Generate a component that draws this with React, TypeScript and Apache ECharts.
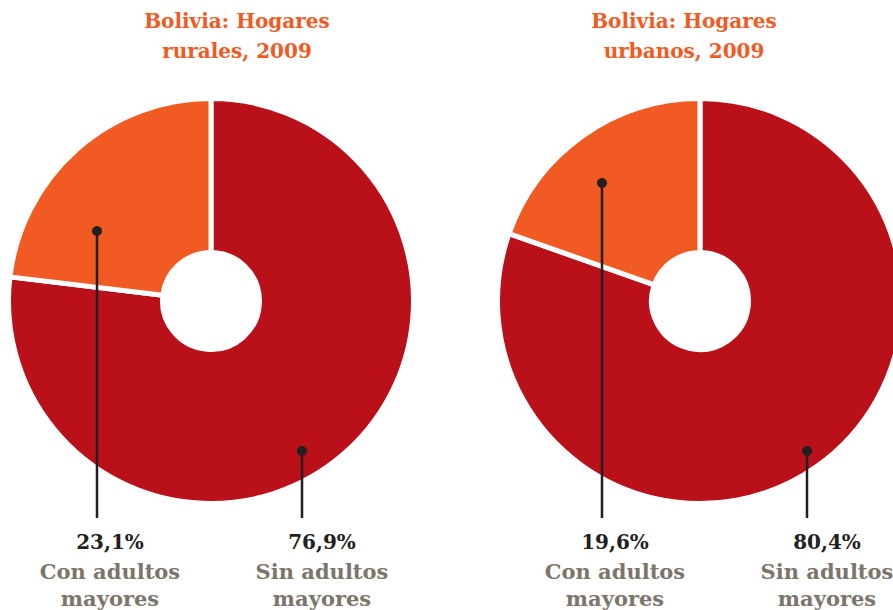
import React, { useEffect, useRef } from "react";
import * as echarts from "echarts";

const titles = ["Bolivia: Hogares\nrurales, 2009", "Bolivia: Hogares\nurbanos, 2009"];
const categories = ["Sin adultos\nmayores", "Con adultos\nmayores"];
const rural = [76.9, 23.1];
const urban = [80.4, 19.6];
const ruralLabels = ["76,9%", "23,1%"];
const urbanLabels = ["80,4%", "19,6%"];

const RED = "#BA1019";
const ORANGE = "#F15A22";
const DARK = "#231F20";
const GREY = "#7C756A";
const FONT = "DejaVu Serif";

export default function App() {
  const ref = useRef<HTMLDivElement>(null);
  useEffect(() => {
    if (!ref.current) return;
    const chart = echarts.init(ref.current, null, { renderer: "svg" });
    const colors = [RED, ORANGE];
    const makePie = (vals: number[], cx: number) => ({
      type: "pie",
      center: [cx, 301],
      radius: [48.5, 202.5],
      startAngle: 90,
      clockwise: true,
      silent: true,
      label: { show: false },
      labelLine: { show: false },
      itemStyle: { borderColor: "#ffffff", borderWidth: 5 },
      data: vals.map((v, i) => ({ value: v, name: categories[i], itemStyle: { color: colors[i] } })),
    });

    // annotation: [dotX, dotY, labelCenterX, pctText, catText]
    const notes: [number, number, number, string, string][] = [
      [97, 231, 110, ruralLabels[1], categories[1]],
      [302, 451, 322, ruralLabels[0], categories[0]],
      [602, 183, 615, urbanLabels[1], categories[1]],
      [807, 451, 827, urbanLabels[0], categories[0]],
    ];
    const graphics: any[] = [];
    notes.forEach(([dx, dy, lx, pct, cat]) => {
      graphics.push({
        type: "line",
        shape: { x1: dx, y1: dy, x2: dx, y2: 518 },
        style: { stroke: DARK, lineWidth: 2.5 },
        z: 10,
      });
      graphics.push({
        type: "circle",
        shape: { cx: dx, cy: dy, r: 5 },
        style: { fill: DARK },
        z: 10,
      });
      graphics.push({
        type: "text",
        x: lx,
        y: 542,
        style: {
          text: pct,
          fill: DARK,
          font: `bold 20px "${FONT}"`,
          align: "center",
          verticalAlign: "middle",
        },
        z: 10,
      });
      graphics.push({
        type: "text",
        x: lx,
        y: 558,
        style: {
          text: cat,
          fill: GREY,
          font: `bold 21px "${FONT}"`,
          align: "center",
          verticalAlign: "top",
          lineHeight: 27,
        },
        z: 10,
      });
    });

    const titleStyle = { color: ORANGE, fontFamily: FONT, fontWeight: "bold", fontSize: 20, lineHeight: 30 };
    chart.setOption({
      animation: false,
      title: [
        { text: titles[0], left: 232, top: 1, textAlign: "center", textStyle: titleStyle },
        { text: titles[1], left: 679, top: 1, textAlign: "center", textStyle: titleStyle },
      ],
      series: [makePie(rural, 211), makePie(urban, 700)],
      graphic: graphics,
    });
    return () => chart.dispose();
  }, []);
  return (
    <div
      ref={ref}
      style={{ position: "fixed", left: 0, top: 0, width: 893, height: 610, background: "#ffffff" }}
    />
  );
}
